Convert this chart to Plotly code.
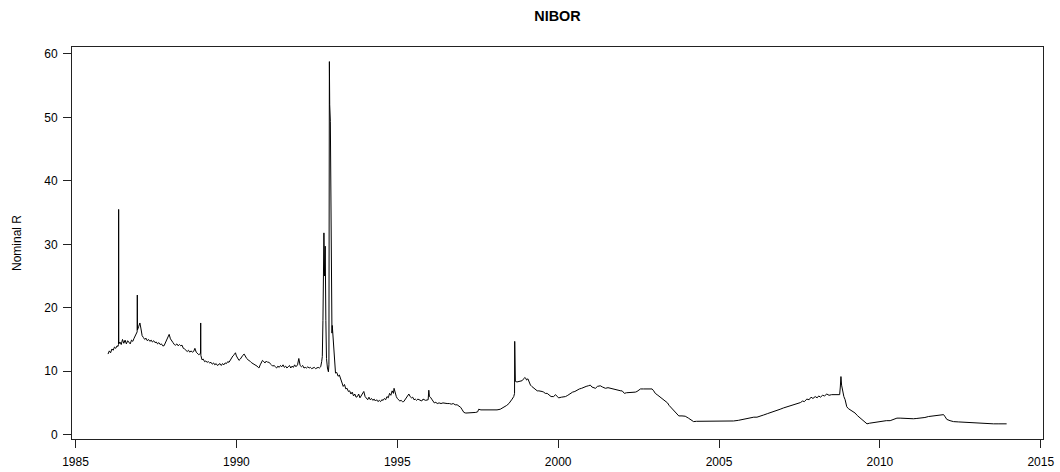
import plotly.graph_objects as go

year = [
1986.01,1986.05,1986.09,1986.13,1986.17,1986.21,1986.25,1986.29,1986.32,1986.335,1986.34,1986.345,
1986.38,1986.42,1986.46,1986.50,1986.54,1986.58,1986.62,1986.66,1986.70,1986.74,1986.78,1986.82,
1986.86,1986.90,1986.915,1986.92,1986.925,1986.96,1987.00,1987.03,1987.07,1987.11,1987.15,1987.19,
1987.23,1987.27,1987.31,1987.35,1987.39,1987.43,1987.47,1987.51,1987.55,1987.59,1987.63,1987.67,
1987.71,1987.75,1987.79,1987.83,1987.87,1987.91,1987.95,1987.99,1988.03,1988.07,1988.11,1988.15,
1988.19,1988.23,1988.27,1988.31,1988.35,1988.39,1988.43,1988.47,1988.51,1988.55,1988.59,1988.63,
1988.67,1988.71,1988.75,1988.79,1988.83,1988.885,1988.89,1988.895,1988.93,1988.97,1989.01,1989.05,
1989.09,1989.13,1989.17,1989.21,1989.25,1989.29,1989.33,1989.37,1989.41,1989.45,1989.49,1989.53,
1989.57,1989.61,1989.65,1989.69,1989.73,1989.77,1989.81,1989.85,1989.89,1989.93,1989.97,1990.00,
1990.04,1990.08,1990.12,1990.16,1990.20,1990.24,1990.28,1990.32,1990.36,1990.40,1990.44,1990.48,
1990.52,1990.56,1990.60,1990.64,1990.68,1990.70,1990.74,1990.78,1990.81,1990.85,1990.89,1990.93,
1990.97,1991.01,1991.05,1991.09,1991.13,1991.17,1991.21,1991.25,1991.29,1991.33,1991.37,1991.41,
1991.45,1991.49,1991.53,1991.57,1991.61,1991.65,1991.69,1991.73,1991.77,1991.81,1991.85,1991.90,
1991.94,1991.98,1992.02,1992.06,1992.10,1992.14,1992.18,1992.22,1992.26,1992.30,1992.34,1992.38,
1992.42,1992.46,1992.50,1992.54,1992.58,1992.62,1992.65,1992.67,1992.69,1992.70,1992.72,1992.74,
1992.76,1992.78,1992.80,1992.83,1992.86,1992.875,1992.885,1992.89,1992.90,1992.92,1992.94,1992.95,
1992.96,1992.97,1992.98,1993.01,1993.04,1993.08,1993.12,1993.16,1993.20,1993.24,1993.28,1993.32,
1993.36,1993.40,1993.44,1993.48,1993.52,1993.56,1993.60,1993.64,1993.68,1993.72,1993.76,1993.80,
1993.84,1993.88,1993.92,1993.96,1994.00,1994.04,1994.08,1994.12,1994.16,1994.20,1994.24,1994.28,
1994.32,1994.36,1994.40,1994.44,1994.48,1994.52,1994.56,1994.60,1994.64,1994.68,1994.72,1994.76,
1994.80,1994.84,1994.88,1994.90,1994.93,1994.97,1995.00,1995.04,1995.08,1995.12,1995.16,1995.20,
1995.24,1995.28,1995.32,1995.36,1995.40,1995.44,1995.48,1995.52,1995.56,1995.60,1995.64,1995.68,
1995.72,1995.76,1995.80,1995.84,1995.88,1995.96,1995.98,1996.00,1996.03,1996.07,1996.11,1996.15,
1996.20,1996.24,1996.30,1996.36,1996.42,1996.48,1996.55,1996.62,1996.68,1996.74,1996.80,1996.86,
1996.92,1996.97,1997.02,1997.07,1997.13,1997.20,1997.28,1997.36,1997.44,1997.50,1997.53,1997.60,
1997.70,1997.80,1997.90,1998.00,1998.10,1998.20,1998.31,1998.40,1998.47,1998.52,1998.57,1998.62,
1998.645,1998.65,1998.655,1998.67,1998.72,1998.78,1998.83,1998.88,1998.93,1998.96,1998.99,1999.02,
1999.06,1999.10,1999.14,1999.18,1999.22,1999.26,1999.30,1999.35,1999.40,1999.45,1999.50,1999.55,
1999.60,1999.66,1999.72,1999.78,1999.86,1999.92,1999.97,2000.02,2000.10,2000.17,2000.23,2000.30,
2000.38,2000.45,2000.52,2000.59,2000.66,2000.73,2000.80,2000.87,2000.94,2001.00,2001.05,2001.10,
2001.16,2001.22,2001.31,2001.38,2001.47,2001.55,2001.62,2001.68,2001.75,2001.82,2001.88,2001.95,
2001.99,2002.06,2002.12,2002.18,2002.25,2002.32,2002.40,2002.45,2002.52,2002.56,2002.65,2002.75,
2002.85,2002.92,2002.97,2003.02,2003.10,2003.18,2003.25,2003.33,2003.40,2003.45,2003.49,2003.55,
2003.60,2003.64,2003.70,2003.75,2003.85,2003.95,2004.05,2004.12,2004.21,2004.30,2004.40,2004.52,
2004.65,2004.80,2004.99,2005.15,2005.30,2005.45,2005.60,2005.76,2005.87,2005.97,2006.08,2006.18,
2006.30,2006.39,2006.50,2006.60,2006.70,2006.80,2006.90,2007.00,2007.10,2007.20,2007.32,2007.42,
2007.53,2007.60,2007.65,2007.73,2007.80,2007.86,2007.92,2007.99,2008.05,2008.10,2008.15,2008.22,
2008.28,2008.35,2008.42,2008.50,2008.56,2008.62,2008.68,2008.75,2008.77,2008.79,2008.81,2008.83,
2008.85,2008.88,2008.92,2008.97,2009.02,2009.08,2009.15,2009.23,2009.30,2009.39,2009.46,2009.54,
2009.60,2009.68,2009.80,2009.90,2010.00,2010.11,2010.20,2010.32,2010.42,2010.53,2010.63,2010.73,
2010.85,2010.95,2011.04,2011.15,2011.30,2011.40,2011.51,2011.60,2011.72,2011.85,2011.98,2012.03,
2012.08,2012.18,2012.29,2012.45,2012.60,2012.75,2012.91,2013.05,2013.22,2013.38,2013.53,2013.70,
2013.85,2013.94,
]

rate = [
12.7,13.2,12.9,13.5,13.3,13.8,13.6,14.0,13.9,14.2,35.5,14.3,
14.6,14.2,15.0,14.4,14.9,14.3,14.8,14.6,14.3,14.9,14.7,15.2,
15.6,16.0,16.2,22.0,16.5,17.0,17.6,16.8,15.6,15.3,15.0,15.2,
14.8,15.0,14.7,14.9,14.6,14.8,14.5,14.6,14.3,14.5,14.2,14.3,
14.0,14.0,14.4,15.0,15.4,15.8,15.1,14.7,14.5,14.2,14.1,14.3,
14.0,14.2,14.0,14.1,13.6,13.5,13.2,13.1,13.3,13.0,13.2,13.0,
13.1,13.6,13.0,12.8,12.6,12.8,17.6,12.5,11.8,11.9,11.5,11.6,
11.4,11.5,11.3,11.4,11.1,11.3,11.0,11.2,10.9,11.0,11.2,10.9,
11.2,11.0,11.3,11.2,11.5,11.4,11.8,12.2,12.4,12.6,12.9,12.4,
11.9,11.7,11.9,12.3,12.5,12.7,12.2,12.0,11.8,11.7,11.5,11.3,
11.2,11.0,10.9,10.8,10.6,10.5,11.0,11.5,11.7,11.5,11.3,11.6,
11.4,11.4,11.1,11.0,10.8,10.9,10.7,10.5,10.8,10.6,10.9,10.7,
11.0,10.6,10.8,10.5,10.7,10.9,10.5,10.8,10.6,11.0,10.7,11.0,
12.0,10.9,10.7,10.9,10.5,10.6,10.5,10.7,10.5,10.6,10.4,10.5,
10.6,10.4,10.5,10.6,10.5,10.7,11.5,12.3,18.0,23.3,31.8,25.0,
29.7,18.0,12.0,10.5,9.9,11.0,40.0,58.8,52.0,49.4,30.0,24.4,
17.0,16.0,17.2,14.9,12.0,9.7,9.8,9.2,9.4,8.8,8.3,7.6,
7.9,7.2,7.3,6.8,6.9,6.4,6.7,6.1,6.4,5.9,6.0,6.4,
5.8,6.2,6.5,6.8,6.0,5.7,5.5,5.9,5.5,5.7,5.4,5.6,
5.3,5.5,5.2,5.4,5.2,5.5,5.4,5.7,5.5,6.0,5.8,6.5,
6.2,6.9,6.5,7.3,6.6,6.0,5.7,5.5,5.3,5.4,5.2,5.2,
5.5,5.8,6.1,6.4,6.0,5.8,5.9,5.5,5.6,5.4,5.6,5.5,
5.5,5.3,5.6,5.5,5.4,5.5,7.0,6.0,5.9,5.6,5.3,5.0,
5.1,4.9,5.0,4.9,5.0,4.9,4.9,4.9,4.8,4.9,4.7,4.7,
4.5,4.3,3.9,3.5,3.4,3.4,3.4,3.4,3.5,3.6,4.0,3.9,
3.9,3.8,3.8,3.8,3.9,4.0,4.3,4.6,4.9,5.2,5.6,6.0,
6.5,14.7,8.6,8.4,8.3,8.4,8.4,8.5,8.8,9.0,8.9,8.6,
8.8,8.2,7.8,7.6,7.4,7.2,7.0,6.9,6.9,6.9,6.8,6.7,
6.5,6.5,6.3,6.0,6.0,6.3,6.0,5.8,5.9,5.9,6.0,6.2,
6.5,6.7,6.8,7.05,7.2,7.3,7.5,7.6,7.7,7.8,7.5,7.4,
7.3,7.6,7.7,7.5,7.3,7.4,7.3,7.3,7.2,7.1,7.05,6.9,
6.9,6.5,6.6,6.6,6.7,6.7,6.7,6.8,7.0,7.2,7.2,7.2,
7.2,7.2,6.9,6.5,6.2,5.9,5.7,5.4,5.0,4.6,4.4,4.0,
3.8,3.6,3.2,2.95,2.95,2.9,2.6,2.3,2.05,2.1,2.1,2.1,
2.1,2.05,2.05,2.05,2.1,2.15,2.25,2.4,2.6,2.7,2.75,2.75,
2.9,3.1,3.3,3.45,3.6,3.8,4.0,4.2,4.35,4.5,4.7,4.9,
5.05,5.3,5.2,5.6,5.5,5.9,5.7,6.0,5.8,6.1,5.9,6.2,
6.1,6.4,6.2,6.3,6.3,6.2,6.3,6.3,7.5,9.15,7.8,7.2,
6.8,6.0,5.5,4.4,4.1,3.9,3.6,3.4,3.0,2.6,2.2,1.9,
1.7,1.8,1.9,2.0,2.05,2.16,2.2,2.2,2.4,2.6,2.6,2.55,
2.5,2.5,2.5,2.55,2.6,2.7,2.85,2.9,3.0,3.1,3.15,2.8,
2.4,2.2,2.05,2.0,1.95,1.9,1.9,1.85,1.8,1.75,1.7,1.7,
1.65,1.7,
]

x_ticks = [1985, 1990, 1995, 2000, 2005, 2010, 2015]
y_ticks = [0, 10, 20, 30, 40, 50, 60]

FONT = "Liberation Sans, Arial, Helvetica, sans-serif"

fig = go.Figure()
fig.add_trace(go.Scatter(x=year, y=rate, mode="lines",
                         line=dict(color="#000000", width=1),
                         showlegend=False, hoverinfo="skip"))

W, H = 1060, 472
L, R, T, B = 72, 17, 47, 33
plot_w = W - L - R

fig.update_layout(
    width=W, height=H,
    margin=dict(l=L, r=R, t=T, b=B),
    paper_bgcolor="white", plot_bgcolor="white",
    font=dict(family=FONT, size=12, color="#000000"),
    title=dict(text="<b>NIBOR</b>", x=0.5, xref="paper", xanchor="center",
               y=1 - 15.5 / H, yref="container", yanchor="middle",
               font=dict(family=FONT, size=14.4, color="#000000")),
    xaxis=dict(range=[1984.89, 2015.07], tickvals=x_ticks, ticktext=[str(v) for v in x_ticks],
               showgrid=False, zeroline=False, showline=True, mirror=True, automargin=False,
               linecolor="#222222", linewidth=1, ticks="outside", ticklen=8,
               tickcolor="#222222", tickfont=dict(size=12), ticklabelstandoff=4,
               ticklabeloverflow="allow"),
    yaxis=dict(range=[-0.69, 61.1], tickvals=y_ticks, ticktext=[str(v) for v in y_ticks],
               showgrid=False, zeroline=False, showline=True, mirror=True, automargin=False,
               linecolor="#222222", linewidth=1, ticks="outside", ticklen=8,
               tickcolor="#222222", tickfont=dict(size=12), ticklabelstandoff=3),
    annotations=[dict(text="Nominal R", xref="paper", yref="paper",
                      x=-(L - 17) / plot_w, y=0.5, xanchor="center", yanchor="middle",
                      textangle=-90, showarrow=False,
                      font=dict(family=FONT, size=12, color="#000000"))],
)

fig.write_html("out.html",
               config={"displayModeBar": False, "staticPlot": True},
               post_script="document.body.style.margin='0px';document.body.style.overflow='hidden';")
